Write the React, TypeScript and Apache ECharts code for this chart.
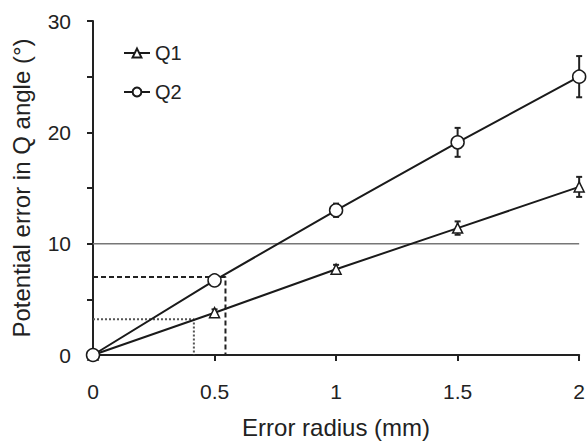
import React, { useEffect, useRef } from "react";
import * as echarts from "echarts";

const radius = [0, 0.5, 1, 1.5, 2];
const q1 = [0, 3.8, 7.7, 11.4, 15.1];
const q1Err = [0, 0.3, 0.4, 0.6, 0.9];
const q2 = [0, 6.7, 13.0, 19.1, 25.0];
const q2Err = [0, 0.3, 0.6, 1.3, 1.85];
const refLine = [[0, 10], [2, 10]];
const dashedGuide = [[0, 7], [0.545, 7], [0.545, 0]];
const dottedGuide = [[0, 3.2], [0.415, 3.2], [0.415, 0]];

const FONT = "Liberation Sans, Arial, sans-serif";

function errData(vals: number[], errs: number[]) {
  return radius.map((x, i) => [x, vals[i] - errs[i], vals[i] + errs[i]]).filter((_, i) => errs[i] > 0);
}

function errRender(params: any, api: any) {
  const x = api.value(0);
  const lo = api.coord([x, api.value(1)]);
  const hi = api.coord([x, api.value(2)]);
  const w = 3;
  const style = { stroke: "#222", lineWidth: 2 };
  return {
    type: "group",
    children: [
      { type: "line", shape: { x1: lo[0], y1: lo[1], x2: hi[0], y2: hi[1] }, style },
      { type: "line", shape: { x1: lo[0] - w, y1: lo[1], x2: lo[0] + w, y2: lo[1] }, style },
      { type: "line", shape: { x1: hi[0] - w, y1: hi[1], x2: hi[0] + w, y2: hi[1] }, style },
    ],
  };
}

export default function App() {
  const ref = useRef<HTMLDivElement>(null);
  useEffect(() => {
    const chart = echarts.init(ref.current!, null, { renderer: "svg" });
    chart.setOption({
      animation: false,
      textStyle: { fontFamily: FONT },
      grid: { left: 93, right: 6, top: 21, bottom: 88 },
      legend: {
        orient: "vertical",
        left: 123,
        top: 43,
        padding: 0,
        itemGap: 19,
        itemWidth: 26,
        itemHeight: 11,
        textStyle: { fontSize: 20, color: "#222", fontFamily: FONT },
        data: ["Q1", "Q2"],
      },
      xAxis: {
        type: "value",
        min: 0,
        max: 2,
        interval: 0.5,
        name: "Error radius (mm)",
        nameLocation: "middle",
        nameGap: 60,
        nameTextStyle: { fontSize: 24, color: "#222", fontFamily: FONT },
        axisLine: { lineStyle: { color: "#222", width: 2 } },
        axisTick: { show: true, inside: false, length: 6, lineStyle: { color: "#222", width: 2 } },
        axisLabel: { fontSize: 21, color: "#222", margin: 26, fontFamily: FONT },
        splitLine: { show: false },
      },
      yAxis: {
        type: "value",
        min: 0,
        max: 30,
        interval: 5,
        name: "Potential error in Q angle (°)",
        nameLocation: "middle",
        nameGap: 60,
        nameTextStyle: { fontSize: 24, color: "#222", fontFamily: FONT },
        axisLine: { show: true, lineStyle: { color: "#222", width: 2 } },
        axisTick: { show: true, length: 6, lineStyle: { color: "#222", width: 2 } },
        axisLabel: {
          fontSize: 21,
          color: "#222",
          margin: 22,
          fontFamily: FONT,
          formatter: (v: number) => (v % 10 === 0 ? String(v) : ""),
        },
        splitLine: { show: false },
      },
      series: [
        {
          type: "line",
          name: "ref",
          data: refLine,
          symbol: "none",
          lineStyle: { color: "#777", width: 1.5 },
          silent: true,
          z: 1,
        },
        {
          type: "line",
          name: "dash",
          data: dashedGuide,
          symbol: "none",
          lineStyle: { color: "#222", width: 2, type: [5, 3] },
          silent: true,
          z: 1,
        },
        {
          type: "line",
          name: "dot",
          data: dottedGuide,
          symbol: "none",
          lineStyle: { color: "#555", width: 2, type: [2, 2] },
          silent: true,
          z: 1,
        },
        {
          type: "custom",
          name: "q1err",
          renderItem: errRender,
          data: errData(q1, q1Err),
          z: 2,
        },
        {
          type: "custom",
          name: "q2err",
          renderItem: errRender,
          data: errData(q2, q2Err),
          z: 2,
        },
        {
          type: "line",
          name: "Q1",
          data: radius.map((x, i) => [x, q1[i]]),
          symbol: "triangle",
          symbolSize: 10,
          showAllSymbol: true,
          lineStyle: { color: "#1a1a1a", width: 2 },
          itemStyle: { color: "#fff", borderColor: "#1a1a1a", borderWidth: 1.5 },
          z: 3,
        },
        {
          type: "line",
          name: "Q2",
          data: radius.map((x, i) => [x, q2[i]]),
          symbol: "circle",
          symbolSize: 13,
          showAllSymbol: true,
          lineStyle: { color: "#1a1a1a", width: 2 },
          itemStyle: { color: "#fff", borderColor: "#1a1a1a", borderWidth: 1.5 },
          z: 3,
        },
      ],
    });
    return () => chart.dispose();
  }, []);
  return <div ref={ref} style={{ width: 588, height: 444, position: "absolute", left: 0, top: 0 }} />;
}
